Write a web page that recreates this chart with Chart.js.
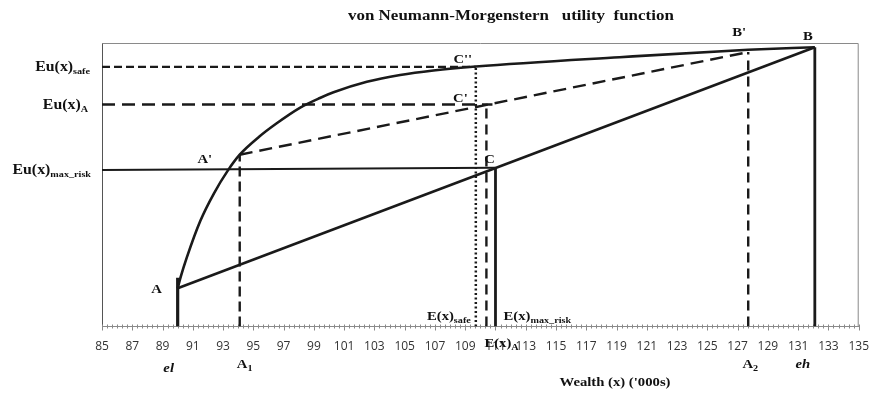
<!DOCTYPE html>
<html>
<head>
<meta charset="utf-8">
<script src="https://cdn.jsdelivr.net/npm/chart.js@4.4.1/dist/chart.umd.min.js"></script>
<style>
  html, body { margin: 0; padding: 0; background: #fff; }
  #wrap { width: 869px; height: 393px; }
</style>
</head>
<body>
<div id="wrap"><canvas id="vnm"></canvas></div>
<script>
// utility curve (wealth in '000s, utility on a 0-100 scale)
const curveX = [90, 90.2, 90.6, 91.5, 92.4, 93.3, 94.1, 95.4, 96.5, 98.1, 99.4, 100.3, 102.5, 104.7, 106.9, 109.7, 119.2, 127.7, 132.1];
const curveU = [13.5, 17.5, 24.3, 37.3, 47.0, 54.9, 60.6, 67.0, 71.5, 77.2, 80.6, 82.6, 86.3, 88.7, 90.3, 91.7, 95.0, 97.6, 98.5];

// chords A-B and A'-B'
const chordABX = [90, 132.1];
const chordABU = [13.5, 98.5];
const chordApBpX = [94.1, 127.7];
const chordApBpU = [60.6, 96.8];

// horizontal utility levels: Eu(x)safe, Eu(x)A, Eu(x)max_risk
const euSafeX = [85, 109.7];
const euSafeU = [91.6, 91.6];
const euAX = [85, 110.8];
const euAU = [78.3, 78.3];
const euMaxX = [85, 111];
const euMaxU = [55.2, 56.0];

// vertical drop lines: el, A1, E(x)safe, E(x)A, E(x)max_risk, A2, eh
const dropX = [90, 94.1, 109.7, 110.4, 111, 127.7, 132.1];
const dropTop = [17.2, 60.6, 91.6, 78.3, 56.0, 96.8, 98.5];

// x axis
const xMin = 85, xMax = 135, minorStep = 1 / 3;

const INK = '#1a1a1a';
const SERIF = '"Liberation Serif", "Times New Roman", serif';
const SX = 1.13; // the original lettering is a little wide

function pts(xs, ys) {
    return xs.map((x, i) => ({ x: x, y: ys[i] }));
}

function line(data, width, dash) {
    return {
        data: data,
        showLine: true,
        borderColor: INK,
        borderWidth: width,
        borderDash: dash || [],
        pointRadius: 0,
        fill: false
    };
}

function drop(i, width, dash) {
    return line([{ x: dropX[i], y: 0 }, { x: dropX[i], y: dropTop[i] }], width, dash);
}

const curve = line(pts(curveX, curveU), 2.6);
curve.cubicInterpolationMode = 'monotone';

const datasets = [
    curve,
    line(pts(chordABX, chordABU), 2.6),
    line(pts(chordApBpX, chordApBpU), 2.4, [13, 7]),
    line(pts(euSafeX, euSafeU), 2.2, [8, 4]),
    line(pts(euAX, euAU), 2.4, [13, 7]),
    line(pts(euMaxX, euMaxU), 2.2),
    drop(0, 3.2),
    drop(1, 2.4, [10, 5]),
    drop(2, 2.5, [2, 2.5]),
    drop(3, 2.4, [10, 6]),
    drop(4, 2.8),
    drop(5, 2.4, [10, 6]),
    drop(6, 2.8)
];

function textW(ctx, str, font) {
    ctx.font = font;
    return ctx.measureText(str).width * SX;
}

// draw text stretched horizontally, starting at x0
function put(ctx, str, x0, y, font) {
    ctx.save();
    ctx.font = font;
    ctx.textAlign = 'left';
    ctx.translate(x0, y);
    ctx.scale(SX, 1);
    ctx.fillText(str, 0, 0);
    ctx.restore();
}

function label(ctx, str, x, y, font, align) {
    const w = textW(ctx, str, font);
    let x0 = x;
    if (align === 'center') x0 = x - w / 2;
    if (align === 'right') x0 = x - w;
    put(ctx, str, x0, y, font);
}

// text with a subscript
function subText(ctx, base, sub, x, y, align, size, subSize, dy) {
    const fb = 'bold ' + size + 'px ' + SERIF;
    const fs = 'bold ' + subSize + 'px ' + SERIF;
    const wb = textW(ctx, base, fb);
    const ws = textW(ctx, sub, fs);
    let x0 = x;
    if (align === 'right') x0 = x - wb - ws;
    if (align === 'center') x0 = x - (wb + ws) / 2;
    put(ctx, base, x0, y, fb);
    put(ctx, sub, x0 + wb, y + dy, fs);
}

const decor = {
    id: 'decor',
    beforeDatasetsDraw(chart) {
        const ctx = chart.ctx;
        const a = chart.chartArea;
        ctx.save();
        // plot frame
        ctx.lineWidth = 1;
        ctx.strokeStyle = '#8a8a8a';
        ctx.beginPath();
        ctx.moveTo(a.left + 0.5, a.bottom);
        ctx.lineTo(a.left + 0.5, a.top + 0.5);
        ctx.lineTo(a.right - 0.5, a.top + 0.5);
        ctx.lineTo(a.right - 0.5, a.bottom);
        ctx.stroke();
        ctx.strokeStyle = '#555';
        ctx.beginPath();
        ctx.moveTo(a.left + 0.5, a.bottom);
        ctx.lineTo(a.left + 0.5, a.top + 0.5);
        ctx.stroke();
        // tick marks crossing the axis
        const xs = chart.scales.x;
        ctx.strokeStyle = '#8a8a8a';
        xs.ticks.forEach(t => {
            const px = Math.round(xs.getPixelForValue(t.value)) + 0.5;
            const major = t.label !== '';
            ctx.beginPath();
            ctx.moveTo(px, a.bottom - 2);
            ctx.lineTo(px, a.bottom + (major ? 4 : 2));
            ctx.stroke();
        });
        ctx.restore();
    },
    afterDraw(chart) {
        const ctx = chart.ctx;
        const xs = chart.scales.x, ys = chart.scales.y;
        const X = v => xs.getPixelForValue(v);
        const Y = v => ys.getPixelForValue(v);
        ctx.save();
        ctx.fillStyle = '#111';
        ctx.textBaseline = 'alphabetic';

        // title
        put(ctx, 'von Neumann-Morgenstern   utility  function', 348, 20, 'bold 15px ' + SERIF);

        // utility level labels on the left
        subText(ctx, 'Eu(x)', 'safe', 90, Y(euSafeU[0]) + 4, 'right', 14, 9, 3);
        subText(ctx, 'Eu(x)', 'A', 88, Y(euAU[0]) + 4, 'right', 14, 9, 3);
        subText(ctx, 'Eu(x)', 'max_risk', 91, Y(euMaxU[0]) + 4, 'right', 14, 9, 3);

        // point labels
        const pf = 'bold 13px ' + SERIF;
        label(ctx, 'A', X(curveX[0]) - 21, Y(curveU[0]) + 5, pf, 'center');
        label(ctx, "A'", X(chordApBpX[0]) - 35, Y(chordApBpU[0]) + 8, pf, 'center');
        label(ctx, 'B', X(chordABX[1]) - 7, Y(chordABU[1]) - 7, pf, 'center');
        label(ctx, "B'", X(chordApBpX[1]) - 9, Y(chordApBpU[1]) - 16, pf, 'center');
        label(ctx, "C''", X(dropX[2]) - 13, Y(dropTop[2]) - 4, pf, 'center');
        label(ctx, "C'", X(dropX[3]) - 26, Y(dropTop[3]) - 3, pf, 'center');
        label(ctx, 'C', X(dropX[4]) - 6, Y(dropTop[4]) - 5, pf, 'center');

        // expected wealth labels near the axis
        const base = chart.chartArea.bottom;
        subText(ctx, 'E(x)', 'safe', X(dropX[2]) - 5, base - 7, 'right', 13, 9, 3);
        subText(ctx, 'E(x)', 'max_risk', X(dropX[4]) + 8, base - 7, 'left', 13, 9, 3);
        subText(ctx, 'E(x)', 'A', X(dropX[3]) - 2, base + 20, 'left', 13, 9, 3);

        // wealth markers below the tick labels
        const itf = 'bold italic 13px ' + SERIF;
        label(ctx, 'el', X(dropX[0]) - 9, 372, itf, 'center');
        label(ctx, 'eh', X(dropX[6]) - 12, 368, itf, 'center');
        subText(ctx, 'A', '1', X(dropX[1]) + 5, 368, 'center', 13, 9, 3);
        subText(ctx, 'A', '2', X(dropX[5]) + 2, 368, 'center', 13, 9, 3);

        // axis title
        label(ctx, "Wealth (x) ('000s)", 615, 386, 'bold 13px ' + SERIF, 'center');
        ctx.restore();
    }
};

new Chart(document.getElementById('vnm'), {
    type: 'scatter',
    data: { datasets: datasets },
    options: {
        responsive: true,
        maintainAspectRatio: false,
        animation: false,
        events: [],
        layout: { padding: { top: 43, left: 102, right: 10, bottom: 36.5 } },
        plugins: {
            legend: { display: false },
            tooltip: { enabled: false }
        },
        scales: {
            x: {
                type: 'linear',
                min: xMin,
                max: xMax,
                afterBuildTicks: scale => {
                    const n = Math.round((xMax - xMin) / minorStep);
                    const t = [];
                    for (let i = 0; i <= n; i++) t.push({ value: xMin + i * minorStep });
                    scale.ticks = t;
                },
                afterFit: scale => { scale.height = 30; },
                grid: {
                    display: true,
                    drawOnChartArea: false,
                    drawTicks: true,
                    tickLength: 13,
                    color: 'rgba(0,0,0,0)'
                },
                border: { display: true, color: '#8a8a8a', width: 1 },
                ticks: {
                    autoSkip: false,
                    maxRotation: 0,
                    padding: 0,
                    color: '#333',
                    font: { family: '"Open Sans", sans-serif', size: 12 },
                    callback: v => {
                        const r = Math.round(v);
                        return (Math.abs(v - r) < 1e-6 && r % 2 === 1) ? String(r) : '';
                    }
                }
            },
            y: {
                type: 'linear',
                min: 0,
                max: 100,
                display: false
            }
        }
    },
    plugins: [decor]
});
</script>
</body>
</html>
